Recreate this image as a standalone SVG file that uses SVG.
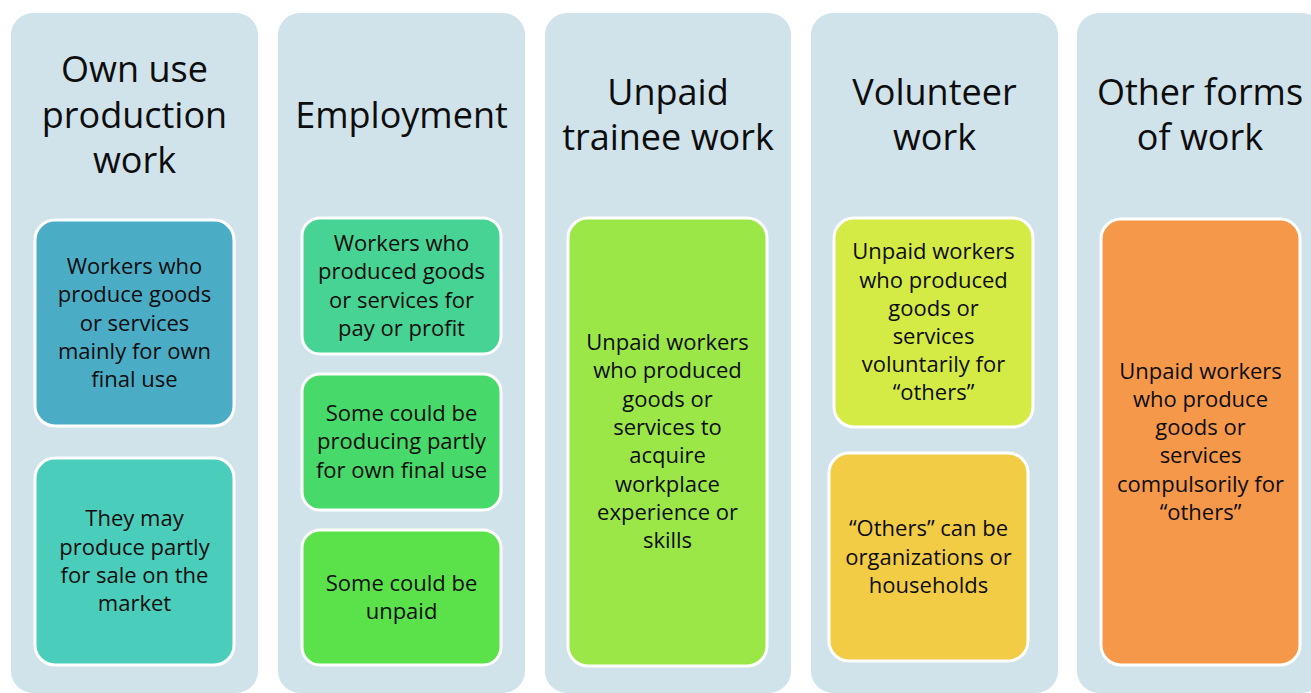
<svg xmlns="http://www.w3.org/2000/svg" width="1311" height="693" viewBox="0 0 1311 693">
<style>
.col{fill:#D0E2EA}
.box{stroke:#FFFFFF;stroke-width:3}
.t{font-family:"Open Sans","Noto Sans",sans-serif;fill:#0D0D0D;text-anchor:middle}
.h{font-size:36px}
.b{font-size:22px}
</style>
<rect width="1311" height="693" fill="#FFFFFF"/>
<g id="col1">
<rect class="col" x="11" y="13" width="247" height="680" rx="22"/>
<text class="t h" x="134.5" y="82">Own use</text>
<text class="t h" x="134.5" y="127.5">production</text>
<text class="t h" x="134.5" y="173">work</text>
<g id="col1-box1">
<rect class="box" x="35" y="220" width="199" height="206" rx="20" fill="#4BACC6"/>
<text class="t b" x="134.5" y="274">Workers who</text>
<text class="t b" x="134.5" y="302">produce goods</text>
<text class="t b" x="134.5" y="331">or services</text>
<text class="t b" x="134.5" y="359">mainly for own</text>
<text class="t b" x="134.5" y="387">final use</text>
</g>
<g id="col1-box2">
<rect class="box" x="35" y="458" width="199" height="207" rx="20" fill="#4ACEBB"/>
<text class="t b" x="134.5" y="526">They may</text>
<text class="t b" x="134.5" y="555">produce partly</text>
<text class="t b" x="134.5" y="583">for sale on the</text>
<text class="t b" x="134.5" y="611">market</text>
</g>
</g>
<g id="col2">
<rect class="col" x="278" y="13" width="247" height="680" rx="22"/>
<text class="t h" x="401.5" y="128">Employment</text>
<g id="col2-box1">
<rect class="box" x="302" y="218" width="199" height="136" rx="18" fill="#47D394"/>
<text class="t b" x="401.5" y="251">Workers who</text>
<text class="t b" x="401.5" y="279">produced goods</text>
<text class="t b" x="401.5" y="308">or services for</text>
<text class="t b" x="401.5" y="336">pay or profit</text>
</g>
<g id="col2-box2">
<rect class="box" x="302" y="374" width="199" height="136" rx="18" fill="#48D96B"/>
<text class="t b" x="401.5" y="421">Some could be</text>
<text class="t b" x="401.5" y="449">producing partly</text>
<text class="t b" x="401.5" y="478">for own final use</text>
</g>
<g id="col2-box3">
<rect class="box" x="302" y="530" width="199" height="135" rx="18" fill="#5BE24B"/>
<text class="t b" x="401.5" y="591">Some could be</text>
<text class="t b" x="401.5" y="619">unpaid</text>
</g>
</g>
<g id="col3">
<rect class="col" x="545" y="13" width="246" height="680" rx="22"/>
<text class="t h" x="668" y="105">Unpaid</text>
<text class="t h" x="668" y="150">trainee work</text>
<g id="col3-box">
<rect class="box" x="568" y="218" width="199" height="448" rx="20" fill="#9BE748"/>
<text class="t b" x="667.5" y="350">Unpaid workers</text>
<text class="t b" x="667.5" y="378">who produced</text>
<text class="t b" x="667.5" y="407">goods or</text>
<text class="t b" x="667.5" y="435">services to</text>
<text class="t b" x="667.5" y="463">acquire</text>
<text class="t b" x="667.5" y="492">workplace</text>
<text class="t b" x="667.5" y="520">experience or</text>
<text class="t b" x="667.5" y="548">skills</text>
</g>
</g>
<g id="col4">
<rect class="col" x="811" y="13" width="247" height="680" rx="22"/>
<text class="t h" x="934.5" y="105">Volunteer</text>
<text class="t h" x="934.5" y="150">work</text>
<g id="col4-box1">
<rect class="box" x="834" y="218" width="199" height="209" rx="20" fill="#D5EB45"/>
<text class="t b" x="933.5" y="259">Unpaid workers</text>
<text class="t b" x="933.5" y="288">who produced</text>
<text class="t b" x="933.5" y="316">goods or</text>
<text class="t b" x="933.5" y="344">services</text>
<text class="t b" x="933.5" y="372">voluntarily for</text>
<text class="t b" x="933.5" y="400">“others”</text>
</g>
<g id="col4-box2">
<rect class="box" x="829" y="453" width="199" height="208" rx="20" fill="#F2CC45"/>
<text class="t b" x="928.5" y="536">“Others” can be</text>
<text class="t b" x="928.5" y="565">organizations or</text>
<text class="t b" x="928.5" y="593">households</text>
</g>
</g>
<g id="col5">
<rect class="col" x="1077" y="13" width="247" height="680" rx="22"/>
<text class="t h" x="1200" y="105">Other forms</text>
<text class="t h" x="1200" y="150">of work</text>
<g id="col5-box">
<rect class="box" x="1101" y="219" width="199" height="446" rx="20" fill="#F59849"/>
<text class="t b" x="1200.5" y="379">Unpaid workers</text>
<text class="t b" x="1200.5" y="407">who produce</text>
<text class="t b" x="1200.5" y="435">goods or</text>
<text class="t b" x="1200.5" y="463">services</text>
<text class="t b" x="1200.5" y="492">compulsorily for</text>
<text class="t b" x="1200.5" y="520">“others”</text>
</g>
</g>
<g id="connectors"/>
</svg>
